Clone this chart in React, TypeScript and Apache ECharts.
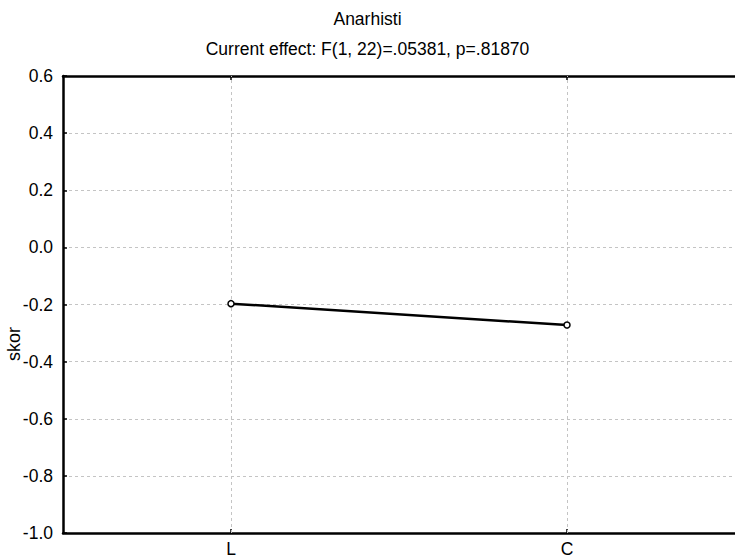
import React, { useEffect, useRef } from "react";
import * as echarts from "echarts";

const titleText = "Anarhisti";
const subtitleText = "Current effect: F(1, 22)=.05381, p=.81870";
const yAxisName = "skor";
const categories = ["L", "C"];
const values = [-0.197, -0.272];
const yMin = -1.0;
const yMax = 0.6;
const yStep = 0.2;

export default function App() {
  const ref = useRef<HTMLDivElement>(null);
  useEffect(() => {
    if (!ref.current) return;
    const chart = echarts.init(ref.current, undefined, { renderer: "svg" });
    const font = "Liberation Sans, Arial, sans-serif";
    const gridStyle = { color: "#c4c4c4", type: [3, 3], width: 1 };
    chart.setOption({
      animation: false,
      backgroundColor: "#ffffff",
      textStyle: { fontFamily: font },
      title: [
        {
          text: titleText,
          left: "center",
          top: 5,
          textStyle: { fontFamily: font, fontSize: 17.5, fontWeight: "normal", color: "#000" },
        },
        {
          text: subtitleText,
          left: "center",
          top: 35,
          textStyle: { fontFamily: font, fontSize: 17.5, fontWeight: "normal", color: "#000" },
        },
      ],
      graphic: [
        {
          type: "text",
          x: 14,
          y: 344,
          rotation: Math.PI / 2,
          style: {
            text: yAxisName,
            fontFamily: font,
            fontSize: 18,
            fill: "#000",
            align: "center",
            verticalAlign: "middle",
          },
        },
      ],
      grid: { left: 63, top: 76, width: 678, height: 458, containLabel: false },
      xAxis: [
        {
          type: "category",
          data: categories,
          position: "bottom",
          boundaryGap: true,
          axisLine: { show: true, onZero: false, lineStyle: { color: "#000", width: 2.5 } },
          axisTick: { show: true, inside: true, length: 4, alignWithLabel: true, lineStyle: { color: "#000", width: 1.5 } },
          axisLabel: { color: "#000", fontSize: 17.5, fontFamily: font, margin: 7 },
          splitLine: { show: false },
        },
        {
          type: "category",
          data: categories,
          position: "top",
          boundaryGap: true,
          axisLine: { show: true, onZero: false, lineStyle: { color: "#000", width: 2.5 } },
          axisTick: { show: true, inside: true, length: 4, alignWithLabel: true, lineStyle: { color: "#000", width: 1.5 } },
          axisLabel: { show: false },
          splitLine: { show: false },
        },
      ],
      yAxis: [
        {
          type: "value",
          min: yMin,
          max: yMax,
          interval: yStep,
          axisLine: { show: true, onZero: false, lineStyle: { color: "#000", width: 2.5 } },
          axisTick: { show: true, inside: true, length: 4, lineStyle: { color: "#000", width: 1.5 } },
          axisLabel: {
            color: "#000",
            fontSize: 17.5,
            fontFamily: font,
            margin: 10,
            formatter: (v: number) => (Math.abs(v) < 1e-9 ? "0.0" : v.toFixed(1)),
          },
          splitLine: { show: true, lineStyle: gridStyle },
        },
      ],
      series: [
        {
          type: "line",
          data: values,
          xAxisIndex: 0,
          yAxisIndex: 0,
          symbol: "circle",
          symbolSize: 6,
          showSymbol: true,
          lineStyle: { color: "#000", width: 2.5 },
          itemStyle: { color: "#fff", borderColor: "#000", borderWidth: 1.5 },
          z: 5,
          markLine: {
            silent: true,
            symbol: ["none", "none"],
            label: { show: false },
            lineStyle: gridStyle,
            z: 1,
            data: categories.map((c) => ({ xAxis: c })),
          },
        },
      ],
    });
    return () => chart.dispose();
  }, []);
  return (
    <div
      ref={ref}
      style={{ position: "absolute", left: 0, top: 0, width: 735, height: 558 }}
    />
  );
}
